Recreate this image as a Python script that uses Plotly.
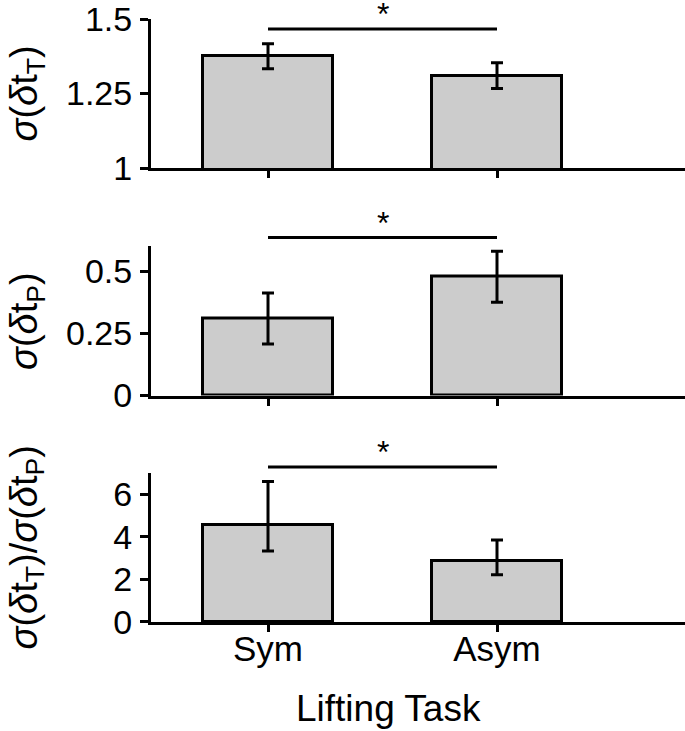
import plotly.graph_objects as go
from plotly.subplots import make_subplots

# data
categories = ['Sym', 'Asym']

sd_t = [1.375, 1.31]
sd_t_err = [0.042, 0.043]

sd_p = [0.31, 0.478]
sd_p_err = [0.103, 0.103]

ratio = [4.55, 2.885]
ratio_err_up = [2.05, 0.97]
ratio_err_down = [1.21, 0.66]

y_ranges = [[1, 1.5], [0, 0.6], [0, 7]]
y_tickvals = [[1, 1.25, 1.5], [0, 0.25, 0.5], [0, 2, 4, 6]]
y_ticktext = [['1', '1.25', '1.5'], ['0', '0.25', '0.5'], ['0', '2', '4', '6']]
y_titles = ['<i>σ</i>(<i>δ</i>t<sub>T</sub>)',
            '<i>σ</i>(<i>δ</i>t<sub>P</sub>)',
            '<i>σ</i>(<i>δ</i>t<sub>T</sub>)/<i>σ</i>(<i>δ</i>t<sub>P</sub>)']
x_title = 'Lifting Task'

FONT = 'Liberation Sans, Arial, sans-serif'
W, H = 685, 731
ML, MT, MB = 151, 15, 109

fig = make_subplots(rows=3, cols=1)

series = [
    (sd_t, sd_t_err, sd_t_err),
    (sd_p, sd_p_err, sd_p_err),
    (ratio, ratio_err_up, ratio_err_down),
]
for i, (vals, up, down) in enumerate(series):
    fig.add_trace(go.Bar(
        x=categories, y=vals, width=0.57,
        marker=dict(color='#cccccc', line=dict(color='black', width=3)),
        error_y=dict(type='data', symmetric=False, array=up, arrayminus=down,
                     color='black', thickness=3, width=6),
        showlegend=False,
    ), row=i + 1, col=1)

# plot area pixel rows (top, bottom) of each panel
rows_px = [(15, 165), (244, 394), (472, 622)]
ph = H - MT - MB
for i, (top, bot) in enumerate(rows_px):
    n = '' if i == 0 else str(i + 1)
    fig.layout['yaxis' + n].domain = [1 - (bot - MT) / ph, 1 - (top - MT) / ph]
    fig.layout['yaxis' + n].update(
        range=y_ranges[i], tickvals=y_tickvals[i], ticktext=y_ticktext[i],
        showgrid=False, zeroline=False, showline=True, linecolor='black', linewidth=3,
        ticks='outside', ticklen=8, tickwidth=3, tickcolor='black',
        tickfont=dict(size=34, color='black', family=FONT),
        ticklabelstandoff=1, ticklabeloverflow='allow',
    )
    fig.layout['xaxis' + n].update(
        range=[-0.511, 1.821], showgrid=False, zeroline=False,
        showline=True, linecolor='black', linewidth=3,
        ticks='outside', ticklen=7, tickwidth=3, tickcolor='black',
        showticklabels=(i == 2),
        tickfont=dict(size=35, color='black', family=FONT), ticklabelstandoff=-13,
    )

    # y-axis title
    fig.add_annotation(text=y_titles[i], textangle=-90, xref='paper',
                       x=(27 - ML) / (W - ML), yref='y' + n + ' domain', y=0.5,
                       xanchor='center', yanchor='middle', showarrow=False,
                       font=dict(size=38, color='black', family=FONT))

# significance bars
sig_y = [0.933, 1.06, 1.04]
for i, yy in enumerate(sig_y):
    n = '' if i == 0 else str(i + 1)
    fig.add_shape(type='line', xref='x' + n, yref='y' + n + ' domain',
                  x0=0, x1=1, y0=yy, y1=yy, line=dict(color='black', width=3))
    fig.add_annotation(text='*', xref='x' + n, x=0.5, yref='y' + n + ' domain', y=yy,
                       yanchor='middle', yshift=15, showarrow=False,
                       font=dict(size=32, color='black', family=FONT))

fig.add_annotation(text=x_title, xref='x3', x=0.524, yref='y3 domain', y=-0.58,
                   xanchor='center', yanchor='middle', showarrow=False,
                   font=dict(size=37, color='black', family=FONT))

fig.update_layout(
    width=W, height=H,
    margin=dict(l=ML, r=0, t=MT, b=MB),
    paper_bgcolor='white', plot_bgcolor='white',
    font=dict(family=FONT, color='black'),
    bargap=0,
)

# the page body has a default 8px margin; drop it so the figure sits at 0,0
fig.write_html("out.html", config={'displayModeBar': False},
               post_script="document.body.style.margin = '0px';")
